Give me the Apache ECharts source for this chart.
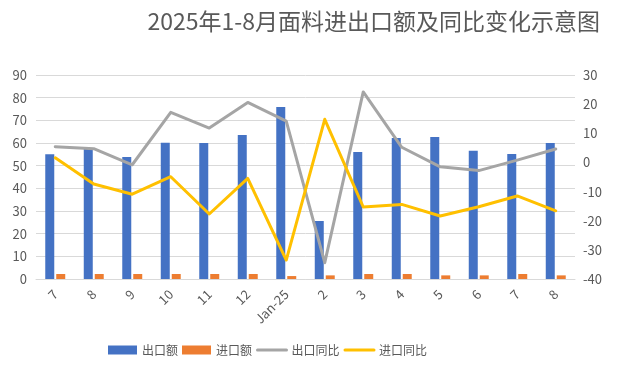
<!DOCTYPE html>
<html><head><meta charset="utf-8">
<script src="https://cdn.jsdelivr.net/npm/echarts@6/dist/echarts.min.js"></script>
<style>html,body{margin:0;padding:0;background:#fff}#c{width:619px;height:365px}</style>
</head><body><div id="c"></div>
<script>
const categories = ['7','8','9','10','11','12','Jan-25','2','3','4','5','6','7','8'];
const exportAmt = [55, 57.7, 53.8, 60.1, 60, 63.5, 75.9, 25.6, 56, 62.2, 62.6, 56.6, 55.1, 60];
const importAmt = [2.2, 2.2, 2.2, 2.2, 2.2, 2.2, 1.3, 1.6, 2.2, 2.2, 1.6, 1.6, 2.2, 1.6];
const exportYoY = [5.4, 4.7, -0.8, 17.2, 11.8, 20.6, 14.2, -34.4, 24.2, 5.2, -1.5, -2.8, 0.8, 4.6];
const importYoY = [1.6, -7.4, -10.9, -4.9, -17.7, -5.5, -33.5, 14.8, -15.3, -14.4, -18.4, -15.2, -11.5, -16.6];
const leftTicks = {min: 0, max: 90, interval: 10};
const rightTicks = {min: -40, max: 30, interval: 10};

const font = '"Noto Sans CJK SC", "Noto Sans", sans-serif';
const txt = '#595959';
const chart = echarts.init(document.getElementById('c'), null, {renderer: 'canvas'});
chart.setOption({
  animation: false,
  textStyle: {fontFamily: font},
  title: {
    text: '2025年1-8月面料进出口额及同比变化示意图',
    right: 14, top: 5,
    textStyle: {fontSize: 23, fontWeight: 'normal', color: txt, fontFamily: font}
  },
  legend: {
    left: 103, top: 339,
    itemWidth: 29, itemHeight: 9, itemGap: 4,
    textStyle: {fontSize: 12, color: txt, fontFamily: font},
    data: [
      {name: '出口额', icon: 'rect'},
      {name: '进口额', icon: 'rect'},
      {name: '出口同比', itemStyle: {opacity: 0}, lineStyle: {width: 3, cap: 'round', color: '#A5A5A5'}},
      {name: '进口同比', itemStyle: {opacity: 0}, lineStyle: {width: 3, cap: 'round', color: '#FFC000'}}
    ]
  },
  grid: {left: 36, right: 44, top: 75, bottom: 86, containLabel: false},
  xAxis: {
    type: 'category', data: categories,
    axisLine: {show: true, lineStyle: {color: '#D9D9D9'}},
    axisTick: {show: false},
    axisLabel: {rotate: 45, color: txt, fontSize: 13, margin: 13, interval: 0, fontFamily: font}
  },
  yAxis: [
    {type: 'value', min: leftTicks.min, max: leftTicks.max, interval: leftTicks.interval,
     axisLine: {show: false}, axisTick: {show: false},
     axisLabel: {color: txt, fontSize: 13, margin: 9, fontFamily: font},
     splitLine: {lineStyle: {color: '#D9D9D9'}}},
    {type: 'value', min: rightTicks.min, max: rightTicks.max, interval: rightTicks.interval,
     axisLine: {show: false}, axisTick: {show: false},
     axisLabel: {color: txt, fontSize: 13, margin: 8, fontFamily: font},
     splitLine: {show: false}}
  ],
  series: [
    {name: '出口额', type: 'bar', data: exportAmt, barWidth: 9, barGap: '22%',
     itemStyle: {color: '#4472C4'}},
    {name: '进口额', type: 'bar', data: importAmt, barWidth: 9,
     itemStyle: {color: '#ED7D31'}},
    {name: '出口同比', type: 'line', yAxisIndex: 1, data: exportYoY, symbol: 'none',
     lineStyle: {color: '#A5A5A5', width: 3, cap: 'round', join: 'round'}, itemStyle: {color: '#A5A5A5'}},
    {name: '进口同比', type: 'line', yAxisIndex: 1, data: importYoY, symbol: 'none',
     lineStyle: {color: '#FFC000', width: 3, cap: 'round', join: 'round'}, itemStyle: {color: '#FFC000'}}
  ]
});
</script></body></html>
